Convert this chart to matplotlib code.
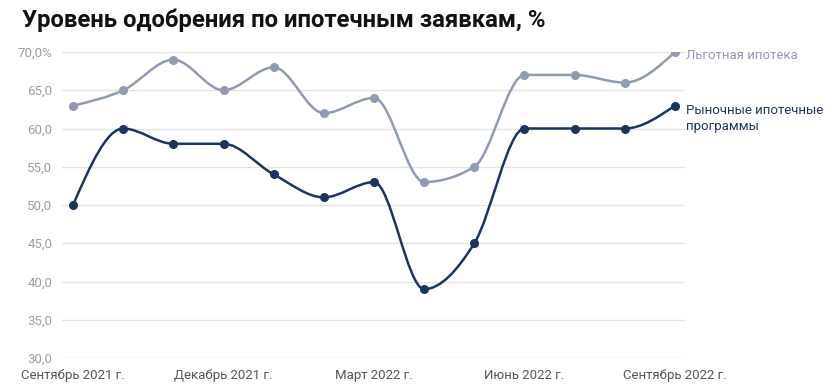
import matplotlib
matplotlib.use("Agg")
import matplotlib.pyplot as plt
import numpy as np
from matplotlib.path import Path
from matplotlib.patches import PathPatch

plt.rcParams['font.family'] = ['Roboto', 'DejaVu Sans']

months = ["Сентябрь 2021 г.", "", "", "Декабрь 2021 г.", "", "", "Март 2022 г.",
          "", "", "Июнь 2022 г.", "", "", "Сентябрь 2022 г."]
lgot = [63, 65, 69, 65, 68, 62, 64, 53, 55, 67, 67, 66, 70]
market = [50, 60, 58, 58, 54, 51, 53, 39, 45, 60, 60, 60, 63]
yticks = [30, 35, 40, 45, 50, 55, 60, 65, 70]

c_light = "#8f9bb0"
c_dark = "#1c355e"


def monotone_path(x, y):
    # d3 curveMonotoneX as cubic Bezier segments
    x = np.asarray(x, float)
    y = np.asarray(y, float)
    n = len(x)
    h = np.diff(x)
    s = np.diff(y) / h
    t = np.zeros(n)
    for i in range(1, n - 1):
        p = (s[i - 1] * h[i] + s[i] * h[i - 1]) / (h[i - 1] + h[i])
        t[i] = (np.sign(s[i - 1]) + np.sign(s[i])) * min(abs(s[i - 1]), abs(s[i]), 0.5 * abs(p))
    t[0] = (3 * s[0] - t[1]) / 2
    t[-1] = (3 * s[-1] - t[-2]) / 2
    verts = [(x[0], y[0])]
    codes = [Path.MOVETO]
    for i in range(n - 1):
        dx = h[i] / 3
        verts += [(x[i] + dx, y[i] + dx * t[i]),
                  (x[i + 1] - dx, y[i + 1] - dx * t[i + 1]),
                  (x[i + 1], y[i + 1])]
        codes += [Path.CURVE4] * 3
    return Path(verts, codes)


fig = plt.figure(figsize=(8.38, 3.9), dpi=100)
ax = fig.add_axes([62 / 838, 32 / 390, (685 - 62) / 838, 306 / 390])

xs = np.arange(len(months))
for vals, col in [(lgot, c_light), (market, c_dark)]:
    ax.add_patch(PathPatch(monotone_path(xs, vals), facecolor='none',
                           edgecolor=col, lw=1.8, zorder=3))
    ax.plot(xs, vals, 'o', color=col, ms=5.5, zorder=4)

ax.set_xlim(-0.22, 12.2)
ax.set_ylim(30, 70)
ax.set_yticks(yticks)
ax.set_yticklabels([f"{v:.1f}".replace('.', ',') + ("%" if v == 70 else "") for v in yticks])
ax.set_xticks(xs)
ax.set_xticklabels(months)
ax.grid(axis='y', color='#e3e3e3', lw=1)
ax.set_axisbelow(True)
for sp in ax.spines.values():
    sp.set_visible(False)
ax.tick_params(axis='both', length=0, labelsize=9.5)
ax.tick_params(axis='y', colors='#9e9e9e', pad=7)
ax.tick_params(axis='x', colors='#555555', pad=8)

ax.text(12.22, 69.6, "Льготная ипотека", color=c_light, fontsize=9.5,
        va='center', ha='left', clip_on=False)
ax.text(12.22, 63.2, "Рыночные ипотечные\nпрограммы", color=c_dark, fontsize=9.5,
        va='top', ha='left', clip_on=False, linespacing=1.3)

fig.text(22 / 838, 1 - 20 / 390, "Уровень одобрения по ипотечным заявкам, %",
         fontsize=17.2, fontweight='bold', va='center', ha='left', color='#111111')

plt.savefig("out.png", dpi=100)
